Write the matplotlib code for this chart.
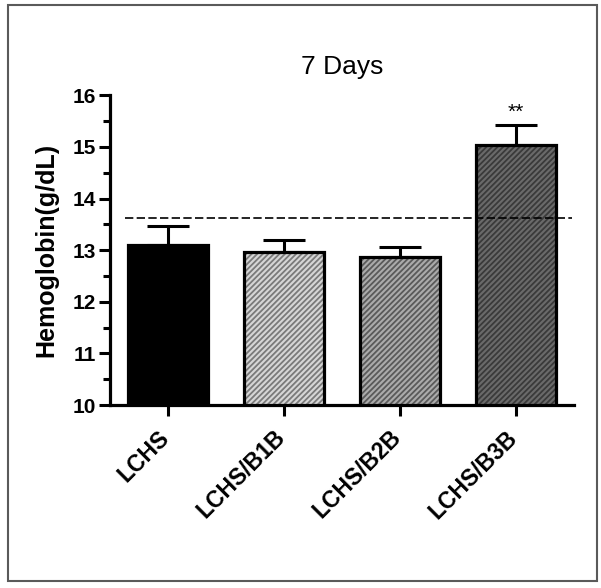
import matplotlib
matplotlib.use("Agg")
import matplotlib.pyplot as plt
import matplotlib.transforms as mtransforms
from matplotlib.patches import Rectangle
from matplotlib.ticker import MultipleLocator

plt.rcParams['font.family'] = ['Liberation Sans', 'DejaVu Sans']
plt.rcParams['hatch.linewidth'] = 1.3

categories = ["LCHS", "LCHS/B1B", "LCHS/B2B", "LCHS/B3B"]
means = [13.1, 12.97, 12.87, 15.04]
errors = [0.37, 0.22, 0.19, 0.39]
reference_level = 13.62
annotations = ["", "", "", "**"]

face_colors = ["#000000", "#d6d6d6", "#ababab", "#6a6a6a"]
hatch_colors = ["#000000", "#7a7a7a", "#5a5a5a", "#3a3a3a"]
hatches = [None, "//////", "//////", "//////"]

fig = plt.figure(figsize=(6.01, 5.88), dpi=100)
ax = fig.add_axes([0.183, 0.311, 0.772, 0.527])

x = list(range(len(categories)))
width = 0.69
for i in x:
    ax.bar(i, means[i], width=width, bottom=0, color=face_colors[i],
           edgecolor=hatch_colors[i], hatch=hatches[i], linewidth=0, zorder=2)
    ax.bar(i, means[i], width=width, fill=False, edgecolor="black",
           linewidth=2.3, zorder=3)
    ax.errorbar(i, means[i], yerr=[[0], [errors[i]]], fmt="none",
                ecolor="black", elinewidth=2.2, capsize=15, capthick=2.2,
                zorder=3)
    if annotations[i]:
        ax.text(i, means[i] + errors[i] + 0.06, annotations[i], ha="center",
                va="bottom", fontsize=15)

ax.plot([-0.37, 3.48], [reference_level, reference_level], color="black",
        linestyle=(0, (5, 2)), linewidth=1.2, zorder=4)

ax.set_xlim(-0.5, 3.5)
ax.set_ylim(10, 16)
for s in ["top", "right"]:
    ax.spines[s].set_visible(False)
for s in ["left", "bottom"]:
    ax.spines[s].set_linewidth(2.3)

ax.yaxis.set_major_locator(MultipleLocator(1))
ax.yaxis.set_minor_locator(MultipleLocator(0.5))
ax.tick_params(axis="y", which="major", length=8, width=2.2, labelsize=15, pad=2)
ax.tick_params(axis="y", which="minor", length=5, width=2.2)
ax.tick_params(axis="x", which="major", length=8, width=2.2, pad=7)
for lbl in ax.get_yticklabels():
    lbl.set_fontweight("bold")

ax.set_xticks(x)
ax.set_xticklabels(categories, rotation=45, ha="right", va="top",
                   fontsize=16.5, fontweight="bold")
offset = mtransforms.ScaledTranslation(4 / 72, 0, fig.dpi_scale_trans)
for lbl in ax.get_xticklabels():
    lbl.set_transform(lbl.get_transform() + offset)

ax.set_ylabel("Hemoglobin(g/dL)", fontsize=18, fontweight="bold", labelpad=10)
ax.set_title("7 Days", fontsize=19, pad=15)

fig.patches.append(Rectangle((0.0133, 0.0119), 0.980, 0.980, transform=fig.transFigure,
                             fill=False, edgecolor="#5a5a5a", linewidth=1.5))

fig.savefig("out.png", dpi=100)
